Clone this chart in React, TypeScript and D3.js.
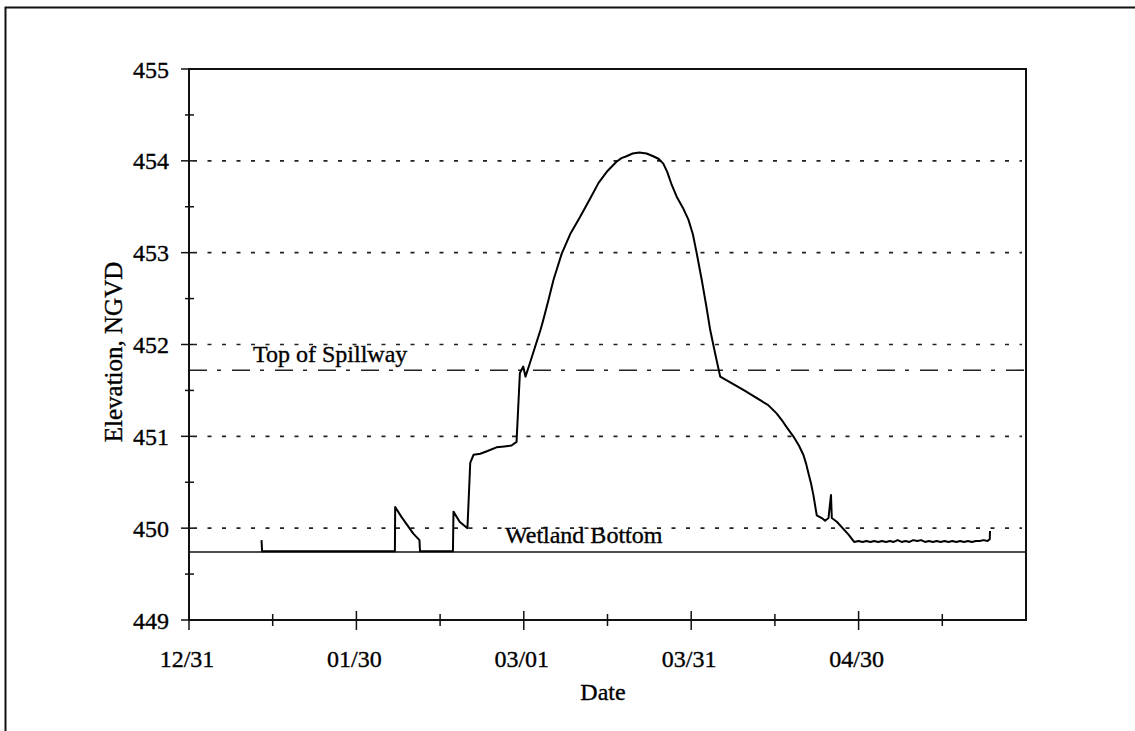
import React, { useEffect, useRef } from 'react';
import * as d3 from 'd3';

// days after 12/31 and water surface elevation (ft NGVD)
const days = [
  13.0, 13.1, 36.9, 36.95, 38.1, 40.2, 41.3, 41.4, 47.3, 47.4, 48.5, 49.9,
  50.4, 51.0, 52.2, 53.5, 55.1, 56.5, 57.8, 58.7, 59.3, 59.9, 60.3, 61.0,
  62.0, 63.0, 63.5, 64.4, 65.3, 66.8, 68.3, 70.1, 71.8, 73.4, 75.0, 76.6,
  77.5, 78.4, 79.5, 80.7, 82.0, 83.2, 84.2, 85.0, 85.7, 86.5, 87.4, 88.5,
  89.5, 90.3, 91.0, 91.9, 92.7, 93.4, 94.3, 95.2, 99.5, 103.8, 105.3, 106.2,
  107.1, 108.3, 109.3, 110.1, 110.6, 111.0, 111.5, 111.9, 112.5, 113.4, 114.0, 114.6,
  115.05, 115.2, 116.1, 118.2, 119.2, 120.0, 120.7, 121.4, 122.1, 122.8, 123.5, 124.2,
  124.9, 125.6, 126.3, 127.0, 127.7, 128.4, 129.1, 129.8, 130.5, 131.2, 131.9, 132.6,
  133.3, 134.0, 134.7, 135.4, 136.1, 136.8, 137.5, 138.2, 138.9, 139.6, 140.3, 141.0,
  141.7, 142.4, 143.1, 143.5, 143.55,
];
const elevation = [
  449.87, 449.75, 449.75, 450.23, 450.12, 449.94, 449.87, 449.75, 449.75, 450.18, 450.07, 450.0,
  450.71, 450.80, 450.81, 450.84, 450.88, 450.89, 450.90, 450.94, 451.69, 451.76, 451.65, 451.78,
  451.97, 452.16, 452.27, 452.48, 452.70, 452.99, 453.2, 453.39, 453.58, 453.76, 453.89, 453.99,
  454.03, 454.05, 454.08, 454.09, 454.08, 454.05, 454.02, 453.97, 453.88, 453.74, 453.61, 453.49,
  453.36, 453.2, 452.99, 452.70, 452.42, 452.16, 451.9, 451.65, 451.50, 451.34, 451.25, 451.18,
  451.10, 451.0, 450.9, 450.80, 450.70, 450.60, 450.48, 450.36, 450.14, 450.11, 450.08, 450.11,
  450.36, 450.11, 450.07, 449.93, 449.85, 449.86, 449.85, 449.86, 449.85, 449.86, 449.85, 449.86,
  449.85, 449.86, 449.85, 449.87, 449.85, 449.86, 449.85, 449.87, 449.86, 449.87, 449.85, 449.86,
  449.85, 449.86, 449.85, 449.86, 449.85, 449.86, 449.85, 449.86, 449.85, 449.86, 449.85, 449.86,
  449.86, 449.87, 449.86, 449.88, 449.97,
];

const xMajor = [0, 30, 60, 90, 120];
const xMinor = [15, 45, 75, 105, 135];
const xLabels = ['12/31', '01/30', '03/01', '03/31', '04/30'];
const yMajor = [449, 450, 451, 452, 453, 454, 455];
const yMinor = [449.5, 450.5, 451.5, 452.5, 453.5, 454.5];
const gridLevels = [450, 451, 452, 453, 454];
const spillway = 451.72;
const wetlandBottom = 449.74;

const FONT = '"Liberation Serif", "Times New Roman", serif';

const App: React.FC = () => {
  const svgRef = useRef<SVGSVGElement>(null);

  useEffect(() => {
    if (!svgRef.current) return;
    const svg = d3.select(svgRef.current);
    svg.selectAll('*').remove();

    const left = 189, right = 1026, top = 69, bottom = 620;
    const x = d3.scaleLinear().domain([0, 150]).range([left, right]);
    const y = d3.scaleLinear().domain([449, 455]).range([bottom, top]);

    // outer frame (only top and left survive in the scan)
    svg.append('path')
      .attr('d', `M5.5,731 L5.5,7.5 L1135,7.5`)
      .attr('fill', 'none')
      .attr('stroke', '#111')
      .attr('stroke-width', 2);

    // dotted gridlines
    svg.selectAll('line.grid')
      .data(gridLevels)
      .enter()
      .append('line')
      .attr('class', 'grid')
      .attr('x1', left + 4)
      .attr('x2', right - 4)
      .attr('y1', d => y(d))
      .attr('y2', d => y(d))
      .attr('stroke', '#222')
      .attr('stroke-width', 1.6)
      .attr('stroke-dasharray', '4 10.5');

    // top of spillway, dash-dot
    svg.append('line')
      .attr('x1', left)
      .attr('x2', right)
      .attr('y1', y(spillway))
      .attr('y2', y(spillway))
      .attr('stroke', '#222')
      .attr('stroke-width', 1.6)
      .attr('stroke-dasharray', '18 10 4 11');

    // wetland bottom, solid
    svg.append('line')
      .attr('x1', left)
      .attr('x2', right)
      .attr('y1', y(wetlandBottom))
      .attr('y2', y(wetlandBottom))
      .attr('stroke', '#111')
      .attr('stroke-width', 1.6);

    // plot frame
    svg.append('rect')
      .attr('x', left)
      .attr('y', top)
      .attr('width', right - left)
      .attr('height', bottom - top)
      .attr('fill', 'none')
      .attr('stroke', '#111')
      .attr('stroke-width', 2);

    // y ticks
    svg.selectAll('line.ymaj')
      .data(yMajor)
      .enter()
      .append('line')
      .attr('x1', left - 8)
      .attr('x2', left + 4)
      .attr('y1', d => y(d))
      .attr('y2', d => y(d))
      .attr('stroke', '#111')
      .attr('stroke-width', 1.5);
    svg.selectAll('line.ymin')
      .data(yMinor)
      .enter()
      .append('line')
      .attr('x1', left - 4)
      .attr('x2', left + 5)
      .attr('y1', d => y(d))
      .attr('y2', d => y(d))
      .attr('stroke', '#111')
      .attr('stroke-width', 1.5);

    const label = (sel: d3.Selection<SVGTextElement, any, any, any>, size = 24) =>
      sel.style('font-family', FONT)
        .style('font-size', `${size}px`)
        .attr('fill', '#000')
        .attr('stroke', '#000')
        .attr('stroke-width', 0.35);

    svg.selectAll('text.ylab')
      .data(yMajor)
      .enter()
      .append('text')
      .attr('x', left - 20)
      .attr('y', d => y(d) + 8.5)
      .attr('text-anchor', 'end')
      .call(label)
      .text(d => d3.format('d')(d));

    // x ticks
    svg.selectAll('line.xmaj')
      .data(xMajor)
      .enter()
      .append('line')
      .attr('x1', d => x(d))
      .attr('x2', d => x(d))
      .attr('y1', bottom - 9)
      .attr('y2', bottom + 10)
      .attr('stroke', '#111')
      .attr('stroke-width', 1.5);
    svg.selectAll('line.xmin')
      .data(xMinor)
      .enter()
      .append('line')
      .attr('x1', d => x(d))
      .attr('x2', d => x(d))
      .attr('y1', bottom - 6)
      .attr('y2', bottom + 6)
      .attr('stroke', '#111')
      .attr('stroke-width', 1.5);

    svg.selectAll('text.xlab')
      .data(xMajor)
      .enter()
      .append('text')
      .attr('x', d => x(d) - 2)
      .attr('y', 667)
      .attr('text-anchor', 'middle')
      .call(label)
      .text((d, i) => xLabels[i]);

    // axis titles
    svg.append('text')
      .attr('transform', `translate(122,352) rotate(-90)`)
      .attr('text-anchor', 'middle')
      .call(label, 25)
      .text('Elevation, NGVD');

    svg.append('text')
      .attr('x', 603)
      .attr('y', 700)
      .attr('text-anchor', 'middle')
      .call(label)
      .text('Date');

    // reference line labels
    svg.append('text')
      .attr('x', 253)
      .attr('y', 362)
      .call(label)
      .text('Top of Spillway');

    svg.append('text')
      .attr('x', 505)
      .attr('y', 543)
      .call(label)
      .text('Wetland Bottom');

    // elevation trace
    const line = d3.line<number>()
      .x((d, i) => x(days[i]))
      .y(d => y(d));
    svg.append('path')
      .datum(elevation)
      .attr('fill', 'none')
      .attr('stroke', '#000')
      .attr('stroke-width', 2)
      .attr('stroke-linejoin', 'round')
      .attr('d', line);
  }, []);

  return (
    <svg
      ref={svgRef}
      width={1135}
      height={731}
      style={{ position: 'absolute', left: 0, top: 0, background: '#fff' }}
    />
  );
};

export default App;
